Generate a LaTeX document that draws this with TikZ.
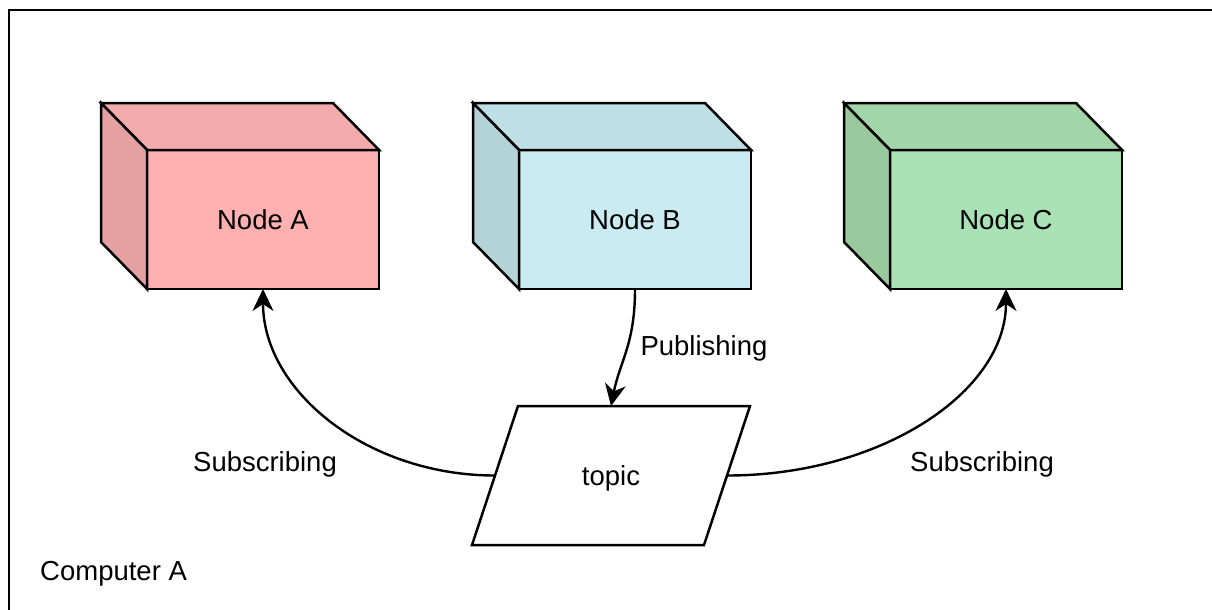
\documentclass[tikz,border=0pt]{standalone}
\usepackage{fontspec}
\setmainfont{Liberation Sans}
\usetikzlibrary{arrows.meta,calc}

\tikzset{
  lbl/.style={font=\fontsize{27.5}{33}\selectfont, inner sep=0pt},
  front/.style={draw, line width=2.5pt, minimum width=232pt, minimum height=139pt,
                inner sep=0pt, outer sep=0pt, font=\fontsize{27.5}{33}\selectfont},
  facet/.style={draw, line width=2.5pt, line join=miter},
  link/.style={line width=2.4pt, -{Stealth[length=22pt,width=21pt,inset=7pt]}},
}

% a 3D box: front face as a named node, top and side faces drawn beside it
\newcommand\cubebox[7]{%
  \node[front, fill=#4] (#1) at (#2,#3) {#7};
  \draw[facet, fill=#5] (#1.north west) -- ($(#1.north west)+(-46,-47)$)
    -- ($(#1.north east)+(-46,-47)$) -- (#1.north east) -- cycle;
  \draw[facet, fill=#6] (#1.north west) -- ($(#1.north west)+(-46,-47)$)
    -- ($(#1.south west)+(-46,-47)$) -- (#1.south west) -- cycle;
}

\definecolor{aFront}{HTML}{FFB0B0}
\definecolor{aTop}{HTML}{F2AAAA}
\definecolor{aSide}{HTML}{E5A1A1}
\definecolor{bFront}{HTML}{C9EBF1}
\definecolor{bTop}{HTML}{BEDFE6}
\definecolor{bSide}{HTML}{B3D3D9}
\definecolor{cFront}{HTML}{A9E3B5}
\definecolor{cTop}{HTML}{A2D5A8}
\definecolor{cSide}{HTML}{99C99C}

\begin{document}
\begin{tikzpicture}[x=1pt, y=-1pt]
  \useasboundingbox (0,0) rectangle (1212,610);
  \clip (0,0) rectangle (1212,610);
  \fill[white] (0,0) rectangle (1212,610);

  % machine frame (continues past the right and bottom edges)
  \draw[line width=2.2pt] (9,10) rectangle (1240,640);
  \node[lbl, anchor=west] (comp) at (40,574) {Computer A};

  \cubebox{na}{263}{219.5}{aFront}{aTop}{aSide}{Node A}
  \cubebox{nb}{635}{219.5}{bFront}{bTop}{bSide}{Node B}
  \cubebox{nc}{1006}{219.5}{cFront}{cTop}{cSide}{Node C}

  % topic: parallelogram drawn around its text node
  \node[lbl, minimum width=278pt, minimum height=139pt, outer sep=0pt,
        text depth=0pt] (topic) at (611,475.5) {topic};
  \draw[facet] (topic.south west) -- ($(topic.north west)+(46,0)$)
    -- (topic.north east) -- ($(topic.south east)+(-46,0)$) -- cycle;
  \coordinate (tl) at ($(topic.west)+(23,0)$);
  \coordinate (tr) at ($(topic.east)+(-23,0)$);

  % connectors
  \draw[link] (nb.south) .. controls +(0,55) and +(9,-45) .. (topic.north);
  \draw[link] (tl) .. controls +(-128,0) and +(0,102) .. (na.south);
  \draw[link] (tr) .. controls +(154,0) and +(0,103) .. (nc.south);

  \node[lbl] (pub) at (704,348) {Publishing};
  \node[lbl] (subl) at (265,464) {Subscribing};
  \node[lbl] (subr) at (982,464) {Subscribing};
\end{tikzpicture}
\end{document}
